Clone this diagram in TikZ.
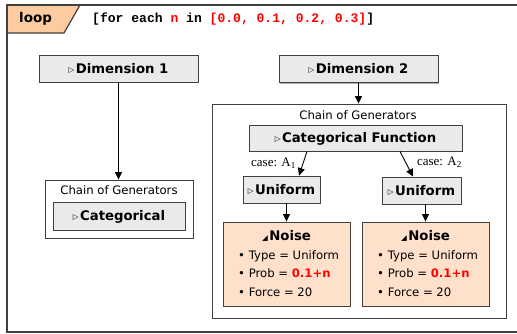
\documentclass[tikz,border=0pt]{standalone}
\usepackage{fontspec}
\setmainfont{DejaVu Sans}
\newfontfamily\monofont{Liberation Mono}
\newfontfamily\serifont{Liberation Serif}
\usetikzlibrary{arrows.meta,shadows}
\definecolor{boxgray}{HTML}{EAEAEA}
\definecolor{edgegray}{HTML}{404040}
\definecolor{peach}{HTML}{FFE0CA}
\definecolor{tabpeach}{HTML}{FCCBA0}
\definecolor{textred}{HTML}{FF0000}
\newcommand\opentri{{\fontsize{7.5}{8}\selectfont\raisebox{1bp}{▷}}\hspace{1.5bp}}
\newcommand\filltri{{\fontsize{7.5}{8}\selectfont ◢}\hspace{1.5bp}}
\tikzset{
  gbox/.style={draw=edgegray, line width=0.9bp, fill=boxgray, inner sep=0pt,
    text height=9.7bp, text depth=0bp,
    font=\fontsize{13.3}{16}\selectfont\bfseries,
    drop shadow={shadow xshift=1.2bp, shadow yshift=-1.2bp, fill=black, opacity=0.3}},
  chainbox/.style={draw=edgegray, line width=0.9bp, fill=white, inner sep=0pt},
  noisebox/.style={draw=edgegray, line width=0.9bp, fill=peach, inner sep=0pt,
    minimum width=127bp, minimum height=84bp,
    drop shadow={shadow xshift=1.2bp, shadow yshift=-1.2bp, fill=black, opacity=0.3}},
  lbl/.style={inner sep=0pt, font=\fontsize{11.7}{14}\selectfont},
  listline/.style={inner sep=0pt, anchor=base west, font=\fontsize{11.7}{14}\selectfont},
  noisetitle/.style={inner sep=0pt, anchor=base, font=\fontsize{13.3}{16}\selectfont\bfseries},
  caselbl/.style={inner sep=0pt, font=\serifont\fontsize{13}{14}\selectfont},
  arr/.style={draw=black, line width=0.9bp, -{Triangle[length=7.5bp,width=7bp]}},
  frameline/.style={draw=edgegray, line width=1.2bp},
}
\begin{document}
\begin{tikzpicture}[x=1bp,y=-1bp]
\useasboundingbox (0,0) rectangle (517,333);
% frame and loop tab
\draw[frameline, fill=tabpeach] (7,5) -- (80,5) -- (64,33) -- (7,33) -- cycle;
\draw[frameline] (517,5) -- (7,5) -- (7,332) -- (517,332);
\node[inner sep=0pt, anchor=west, font=\fontsize{13.5}{16}\selectfont\bfseries] (looplbl) at (19,18.5) {loop};
\node[inner sep=0pt, anchor=west, font=\monofont\bfseries\fontsize{13.1}{16}\selectfont] (looptext) at (92,19.5)
  {[for each \textcolor{textred}{n} in \textcolor{textred}{[0.0, 0.1, 0.2, 0.3]}]};
% dimension 1
\node[gbox, minimum width=159bp, minimum height=27bp] (dim1) at (118.5,68.5) {\opentri Dimension 1};
\node[chainbox, minimum width=148bp, minimum height=58bp] (chainL) at (119,209) {};
\node[lbl] (chainLt) at (119,190.5) {Chain of Generators};
\node[gbox, minimum width=132bp, minimum height=28bp] (cat) at (119,216) {\opentri Categorical};
% dimension 2
\node[gbox, minimum width=159bp, minimum height=27bp] (dim2) at (358.5,69) {\opentri Dimension 2};
\node[chainbox, minimum width=294bp, minimum height=214bp] (chainR) at (359,211) {};
\node[lbl] (chainRt) at (358,115) {Chain of Generators};
\node[gbox, minimum width=213bp, minimum height=26bp] (cf) at (355.5,138) {\opentri Categorical Function};
\node[gbox, minimum width=77bp, minimum height=27bp] (u1) at (281.5,189.5) {\opentri Uniform};
\node[gbox, minimum width=79bp, minimum height=27bp] (u2) at (421.5,190.5) {\opentri Uniform};
\node[noisebox] (n1) at (286.5,264) {};
\node[noisebox] (n2) at (425.5,264) {};
\node[noisetitle] (n1t) at (286.5,240) {\filltri Noise};
\node[noisetitle] (n2t) at (425.5,240) {\filltri Noise};
\node[listline] (n1a) at (238,259.3) {• Type = Uniform};
\node[listline] (n1b) at (238,277.8) {• Prob = \textcolor{textred}{\bfseries 0.1+n}};
\node[listline] (n1c) at (238,296.3) {• Force = 20};
\node[listline] (n2a) at (377,259.3) {• Type = Uniform};
\node[listline] (n2b) at (377,277.8) {• Prob = \textcolor{textred}{\bfseries 0.1+n}};
\node[listline] (n2c) at (377,296.3) {• Force = 20};
% case labels
\node[caselbl, anchor=east] (c1) at (296,163) {case: A\textsubscript{1}};
\node[caselbl, anchor=west] (c2) at (417,162) {case: A\textsubscript{2}};
% connectors
\draw[arr] (dim1.south) -- (dim1.south |- chainL.north);
\draw[arr] (dim2.south) -- (dim2.south |- chainR.north);
\draw[arr] ([xshift=-48.5bp]cf.south) -- ([xshift=17.5bp]u1.north);
\draw[arr] ([xshift=44.5bp]cf.south) -- ([xshift=-8.5bp]u2.north);
\draw[arr] (u1.south -| n1.north) -- (n1.north);
\draw[arr] (u2.south -| n2.north) -- (n2.north);
\end{tikzpicture}
\end{document}
